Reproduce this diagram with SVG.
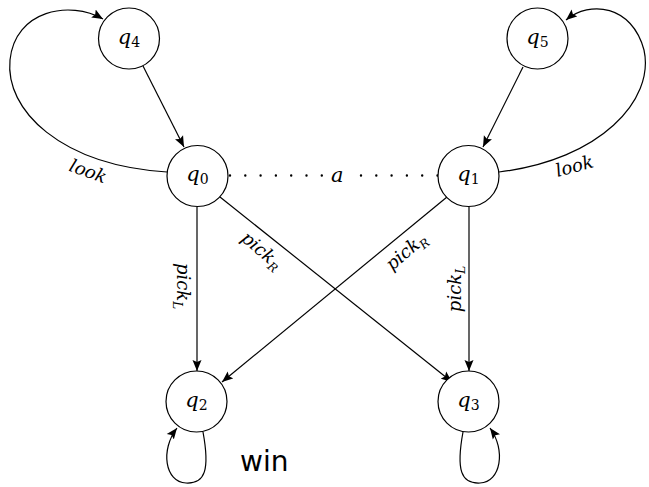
<svg xmlns="http://www.w3.org/2000/svg" width="649" height="487" viewBox="0 0 649 487">
<style>
.node{fill:#fff;stroke:#000;stroke-width:1.2}
.edge{fill:none;stroke:#000;stroke-width:1.2}
.m{font-family:"DejaVu Serif",serif;font-style:italic;font-size:18px;fill:#000}
.q{font-size:21px}
.sub{font-style:normal;font-size:14px}
.subi{font-style:italic;font-size:12px}
.dot{fill:none;stroke:#000;stroke-width:2.4;stroke-linecap:round;stroke-dasharray:0 15.3}
</style>
<defs>
<marker id="arr" markerUnits="userSpaceOnUse" markerWidth="12" markerHeight="10" refX="11" refY="5" orient="auto">
<path d="M0,0.5 L11,5 L0,9.5 L2,5 Z" fill="#000"/>
</marker>
</defs>
<rect width="649" height="487" fill="#fff"/>
<g id="connectors">
<line class="edge" x1="143" y1="66" x2="184" y2="147" marker-end="url(#arr)"/>
<line class="edge" x1="523" y1="67" x2="483" y2="147" marker-end="url(#arr)"/>
<path class="edge" d="M167,172 C60,165 5,110 10,60 C15,10 70,0 103,19" marker-end="url(#arr)"/>
<path class="edge" d="M499,172 C600,160 655,100 644,50 C632,5 590,0 566,20" marker-end="url(#arr)"/>
<line class="edge" x1="197" y1="207" x2="197" y2="371" marker-end="url(#arr)"/>
<line class="edge" x1="469" y1="207" x2="469" y2="371" marker-end="url(#arr)"/>
<line class="edge" x1="220" y1="197" x2="452" y2="382" marker-end="url(#arr)"/>
<line class="edge" x1="447" y1="197" x2="222" y2="382" marker-end="url(#arr)"/>
<path class="edge" d="M203,432 C210,470 205,484 186,483 C165,482 160,450 177,428" marker-end="url(#arr)"/>
<path class="edge" d="M463,432 C456,470 461,484 480,483 C501,482 506,450 490,428" marker-end="url(#arr)"/>
<line class="dot" x1="230" y1="175.5" x2="322" y2="175.5"/>
<line class="dot" x1="361" y1="175.5" x2="438" y2="175.5"/>
<text class="m q" x="331" y="182">a</text>
<text class="m" transform="translate(86,177) rotate(20)" text-anchor="middle">look</text>
<text class="m" transform="translate(576,172) rotate(-15)" text-anchor="middle">look</text>
<text class="m" transform="translate(177,286) rotate(90)" text-anchor="middle">pick<tspan class="subi" dy="4">L</tspan></text>
<text class="m" transform="translate(461,289) rotate(-90)" text-anchor="middle">pick<tspan class="subi" dy="4">L</tspan></text>
<text class="m" transform="translate(258,255) rotate(40)" text-anchor="middle">pick<tspan class="subi" dy="4">R</tspan></text>
<text class="m" transform="translate(410,256) rotate(-40)" text-anchor="middle">pick<tspan class="subi" dy="4">R</tspan></text>
</g>
<g id="q4"><circle class="node" cx="129" cy="38.5" r="30.5"/><text class="m q" x="129" y="44" text-anchor="middle">q<tspan class="sub" dy="3">4</tspan></text></g>
<g id="q5"><circle class="node" cx="537.5" cy="38.5" r="30.5"/><text class="m q" x="537.5" y="44" text-anchor="middle">q<tspan class="sub" dy="3">5</tspan></text></g>
<g id="q0"><circle class="node" cx="197.5" cy="176" r="30.5"/><text class="m q" x="197.5" y="181" text-anchor="middle">q<tspan class="sub" dy="3">0</tspan></text></g>
<g id="q1"><circle class="node" cx="468.5" cy="176" r="30.5"/><text class="m q" x="468.5" y="181" text-anchor="middle">q<tspan class="sub" dy="3">1</tspan></text></g>
<g id="q2"><circle class="node" cx="196.5" cy="401.5" r="30.5"/><text class="m q" x="196.5" y="407" text-anchor="middle">q<tspan class="sub" dy="3">2</tspan></text></g>
<g id="q3"><circle class="node" cx="468.5" cy="401.5" r="30.5"/><text class="m q" x="468.5" y="407" text-anchor="middle">q<tspan class="sub" dy="3">3</tspan></text></g>
<text x="240" y="471" font-family="DejaVu Sans, sans-serif" font-size="28" fill="#000">win</text>
</svg>
